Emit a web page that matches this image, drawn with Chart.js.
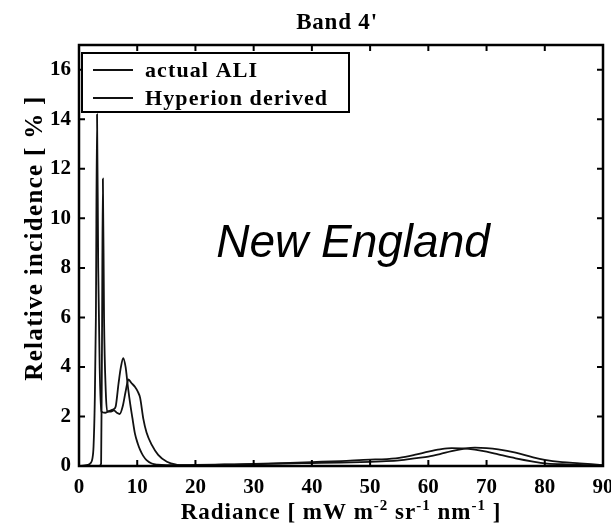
<!DOCTYPE html>
<html>
<head>
<meta charset="utf-8">
<script src="https://cdn.jsdelivr.net/npm/chart.js@4/dist/chart.umd.min.js"></script>
<style>
html,body{margin:0;padding:0;background:#fff;}
canvas{display:block;}
</style>
</head>
<body>
<canvas id="c" width="611" height="529"></canvas>
<script>
// ---- data ----
const chartTitle = "Band 4'";
const annotation = "New England";
const seriesLabels = ["actual ALI", "Hyperion derived"];
const xTicks = [0, 10, 20, 30, 40, 50, 60, 70, 80, 90];
const yTicks = [0, 2, 4, 6, 8, 10, 12, 14, 16];

const aliRadiance = [0, 1, 1.5, 2, 2.3, 2.5, 2.7, 2.9, 3.1, 3.3, 3.55, 3.85, 4.5, 5, 5.5, 6, 6.3, 6.8, 7.2, 7.6, 8.0, 8.4, 8.8, 9.2, 9.6, 10.1, 10.5, 11, 11.6, 12.5, 13.5, 15, 17, 20, 25, 30, 35, 40, 45, 50, 52, 55, 58, 60, 62, 64, 66, 68, 70, 72, 75, 78, 80, 83, 86, 88, 90];
const aliIncidence = [0, 0.02, 0.05, 0.12, 0.3, 0.8, 2.5, 6, 14.2, 8, 4, 2.2, 2.15, 2.2, 2.25, 2.3, 2.4, 3.35, 4.0, 4.36, 4.0, 3.2, 2.5, 1.9, 1.32, 0.9, 0.65, 0.42, 0.24, 0.1, 0.05, 0.03, 0.03, 0.04, 0.06, 0.08, 0.12, 0.16, 0.2, 0.26, 0.27, 0.33, 0.47, 0.58, 0.67, 0.72, 0.71, 0.66, 0.58, 0.47, 0.31, 0.18, 0.11, 0.07, 0.04, 0.03, 0.02];

const hypRadiance = [0, 3.5, 3.8, 3.95, 4.1, 4.3, 4.6, 4.85, 5.5, 6, 6.5, 7, 7.5, 8.0, 8.5, 9.0, 9.6, 10.1, 10.5, 11.05, 11.6, 12.5, 13.6, 15.1, 16.8, 18, 20, 25, 30, 35, 40, 45, 50, 52, 55, 58, 60, 62, 64, 66, 68, 70, 72, 75, 78, 80, 83, 86, 88, 90];
const hypIncidence = [0, 0, 0.1, 5, 11.6, 6, 3, 2.2, 2.2, 2.25, 2.15, 2.1, 2.4, 3.0, 3.5, 3.35, 3.2, 3.0, 2.75, 1.9, 1.35, 0.85, 0.45, 0.17, 0.05, 0.03, 0.03, 0.05, 0.07, 0.1, 0.12, 0.14, 0.17, 0.19, 0.23, 0.32, 0.38, 0.48, 0.6, 0.69, 0.74, 0.72, 0.67, 0.54, 0.35, 0.25, 0.16, 0.11, 0.07, 0.03];

const toPoints = (xs, ys) => xs.map((x, i) => ({x: x, y: ys[i]}));

const SERIF = '"Liberation Serif", "Times New Roman", serif';

function spaced(ctx, px) {
  if ('letterSpacing' in ctx) ctx.letterSpacing = px + 'px';
}

const decorPlugin = {
  id: 'decor',
  afterDatasetsDraw(chart) {
    const ctx = chart.ctx;
    const a = chart.chartArea;
    const xs = chart.scales.x, ys = chart.scales.y;
    ctx.save();
    // frame
    ctx.strokeStyle = '#000';
    ctx.lineWidth = 2.5;
    ctx.strokeRect(a.left, a.top, a.right - a.left, a.bottom - a.top);
    // inward ticks on all four sides
    ctx.lineWidth = 2;
    const tl = 6;
    ctx.beginPath();
    xTicks.forEach(v => {
      const px = xs.getPixelForValue(v);
      ctx.moveTo(px, a.bottom); ctx.lineTo(px, a.bottom - tl);
      ctx.moveTo(px, a.top); ctx.lineTo(px, a.top + tl);
    });
    yTicks.forEach(v => {
      const py = ys.getPixelForValue(v);
      ctx.moveTo(a.left, py); ctx.lineTo(a.left + tl, py);
      ctx.moveTo(a.right, py); ctx.lineTo(a.right - tl, py);
    });
    ctx.stroke();

    // legend box
    const lx = 82, ly = 53, lw = 267, lh = 59;
    ctx.fillStyle = '#fff';
    ctx.fillRect(lx, ly, lw, lh);
    ctx.lineWidth = 2;
    ctx.strokeRect(lx, ly, lw, lh);
    ctx.font = 'bold 22px ' + SERIF;
    ctx.textBaseline = 'alphabetic';
    ctx.textAlign = 'left';
    spaced(ctx, 1.1);
    chart.data.datasets.forEach((ds, i) => {
      const y = 70 + i * 28;
      ctx.strokeStyle = ds.borderColor;
      ctx.lineWidth = 1.8;
      ctx.beginPath();
      ctx.moveTo(93, y); ctx.lineTo(133, y);
      ctx.stroke();
      ctx.fillStyle = '#000';
      ctx.fillText(ds.label, 145, y + 7);
    });

    // annotation
    spaced(ctx, 0);
    ctx.font = 'italic 46px "Liberation Sans", Arial, sans-serif';
    ctx.textAlign = 'center';
    ctx.fillStyle = '#000';
    ctx.fillText(annotation, 353, 257);

    // title
    ctx.font = 'bold 23px ' + SERIF;
    spaced(ctx, 0.8);
    ctx.fillText(chartTitle, 337, 29);

    // y axis title
    ctx.save();
    ctx.translate(36, 238);
    ctx.rotate(-Math.PI / 2);
    ctx.font = 'bold 25px ' + SERIF;
    spaced(ctx, 1.3);
    ctx.textAlign = 'center';
    ctx.textBaseline = 'middle';
    ctx.fillText('Relative incidence [ % ]', 0, 0);
    ctx.restore();

    // x axis title with superscripts
    const parts = [
      ['Radiance [ mW m', false], ['-2', true], [' sr', false], ['-1', true],
      [' nm', false], ['-1', true], [' ]', false]
    ];
    const big = 'bold 23px ' + SERIF, small = 'bold 15px ' + SERIF;
    spaced(ctx, 1);
    ctx.textAlign = 'left';
    ctx.textBaseline = 'alphabetic';
    let total = 0;
    parts.forEach(p => { ctx.font = p[1] ? small : big; total += ctx.measureText(p[0]).width; });
    let x = 341 - total / 2;
    const base = 519;
    parts.forEach(p => {
      ctx.font = p[1] ? small : big;
      ctx.fillText(p[0], x, p[1] ? base - 9 : base);
      x += ctx.measureText(p[0]).width;
    });
    ctx.restore();
  }
};

const ctx = document.getElementById('c').getContext('2d');
new Chart(ctx, {
  type: 'line',
  data: {
    datasets: [
      {label: seriesLabels[0], data: toPoints(aliRadiance, aliIncidence), borderColor: '#111', borderWidth: 1.8, pointRadius: 0, cubicInterpolationMode: 'monotone', fill: false},
      {label: seriesLabels[1], data: toPoints(hypRadiance, hypIncidence), borderColor: '#111', borderWidth: 1.8, pointRadius: 0, cubicInterpolationMode: 'monotone', fill: false}
    ]
  },
  options: {
    responsive: false,
    animation: false,
    devicePixelRatio: 1,
    layout: {padding: {left: 0, right: 8, top: 45, bottom: 0}},
    plugins: {legend: {display: false}, title: {display: false}, tooltip: {enabled: false}},
    scales: {
      x: {
        type: 'linear', min: 0, max: 90,
        grid: {display: false, drawTicks: false},
        border: {display: false},
        afterBuildTicks: s => { s.ticks = xTicks.map(v => ({value: v})); },
        ticks: {color: '#000', padding: 9, maxRotation: 0, autoSkip: false, font: {family: SERIF, weight: 'bold', size: 21}},
        afterFit: s => { s.height = 63; s.paddingLeft = 0; s.paddingRight = 0; }
      },
      y: {
        type: 'linear', min: 0, max: 17,
        grid: {display: false, drawTicks: false},
        border: {display: false},
        afterBuildTicks: s => { s.ticks = yTicks.map(v => ({value: v})); },
        ticks: {color: '#000', padding: 8, autoSkip: false, font: {family: SERIF, weight: 'bold', size: 21}},
        afterFit: s => { s.width = 79; s.paddingTop = 0; s.paddingBottom = 0; }
      }
    }
  },
  plugins: [decorPlugin]
});
</script>
</body>
</html>
